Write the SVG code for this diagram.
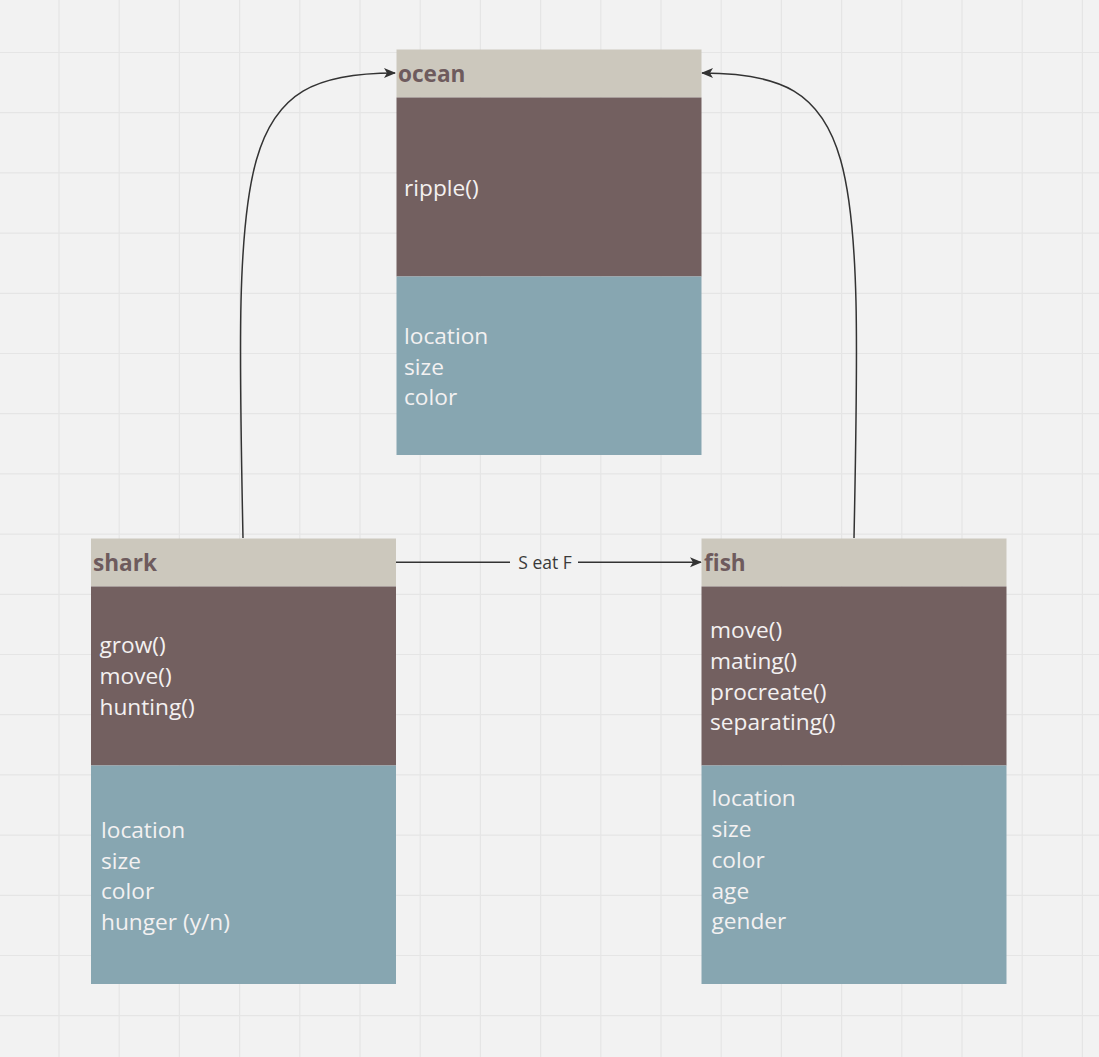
<svg xmlns="http://www.w3.org/2000/svg" width="1099" height="1057" viewBox="0 0 1099 1057">
<style>
.hdr{fill:#ccc8bd}
.mth{fill:#736060}
.att{fill:#87a6b1}
.title{font-family:"Open Sans","Noto Sans",sans-serif;font-weight:bold;font-size:22.6px;fill:#6e5b5d}
.item{font-family:"Open Sans","Noto Sans",sans-serif;font-size:22.7px;fill:#f3f1f1}
.lbl{font-family:"Open Sans","Noto Sans",sans-serif;font-size:17.5px;fill:#3a3a3a}
.conn{fill:none;stroke:#333333;stroke-width:1.5}
</style>
<defs>
<marker id="arr" viewBox="0 0 12 12" refX="11" refY="6" markerWidth="12" markerHeight="12" markerUnits="userSpaceOnUse" orient="auto">
<path d="M0,1 L12,6 L0,11 L3,6 Z" fill="#333333"/>
</marker>
</defs>
<rect width="1099" height="1057" fill="#f2f2f2"/>
<path id="grid" stroke="#e5e5e5" stroke-width="1.2" fill="none" d="M59,0V1057 M119.2,0V1057 M179.4,0V1057 M239.6,0V1057 M299.8,0V1057 M360,0V1057 M420.2,0V1057 M480.4,0V1057 M540.6,0V1057 M600.8,0V1057 M661,0V1057 M721.2,0V1057 M781.4,0V1057 M841.6,0V1057 M901.8,0V1057 M962,0V1057 M1022.2,0V1057 M1082.4,0V1057 M0,52.5H1099 M0,112.7H1099 M0,172.9H1099 M0,233.1H1099 M0,293.3H1099 M0,353.5H1099 M0,413.7H1099 M0,473.9H1099 M0,534.1H1099 M0,594.3H1099 M0,654.5H1099 M0,714.7H1099 M0,774.9H1099 M0,835.1H1099 M0,895.3H1099 M0,955.5H1099 M0,1015.7H1099"/>
<g id="connectors">
<path class="conn" d="M243,538 C235,150 236,73 395,73" marker-end="url(#arr)"/>
<path class="conn" d="M854,538 C862,150 861,73 702,73" marker-end="url(#arr)"/>
<path class="conn" d="M396,562.3 H510 M578,562.3 H701" marker-end="url(#arr)"/>
<text class="lbl" x="545" y="568.5" text-anchor="middle">S eat F</text>
</g>
<g id="ocean">
<rect class="hdr" x="396.5" y="49.5" width="305" height="48"/>
<rect class="mth" x="396.5" y="97.5" width="305" height="179"/>
<rect class="att" x="396.5" y="276.5" width="305" height="178.5"/>
<text class="title" x="398" y="82">ocean</text>
<text class="item" x="404" y="195.5">ripple()</text>
<text class="item" x="404" y="343.5">location</text>
<text class="item" x="404" y="374.5">size</text>
<text class="item" x="404" y="405.3">color</text>
</g>
<g id="shark">
<rect class="hdr" x="91" y="538.5" width="305" height="48"/>
<rect class="mth" x="91" y="586.5" width="305" height="179"/>
<rect class="att" x="91" y="765.5" width="305" height="218.5"/>
<text class="title" x="93" y="571">shark</text>
<text class="item" x="99.5" y="653">grow()</text>
<text class="item" x="99.5" y="683.8">move()</text>
<text class="item" x="99.5" y="714.6">hunting()</text>
<text class="item" x="101" y="837.8">location</text>
<text class="item" x="101" y="868.6">size</text>
<text class="item" x="101" y="899.4">color</text>
<text class="item" x="101" y="930.2">hunger (y/n)</text>
</g>
<g id="fish">
<rect class="hdr" x="701.5" y="538.5" width="305" height="48"/>
<rect class="mth" x="701.5" y="586.5" width="305" height="179"/>
<rect class="att" x="701.5" y="765.5" width="305" height="218.5"/>
<text class="title" x="704" y="571">fish</text>
<text class="item" x="710" y="638">move()</text>
<text class="item" x="710" y="668.8">mating()</text>
<text class="item" x="710" y="699.6">procreate()</text>
<text class="item" x="710" y="730.4">separating()</text>
<text class="item" x="711.5" y="806.2">location</text>
<text class="item" x="711.5" y="837">size</text>
<text class="item" x="711.5" y="867.8">color</text>
<text class="item" x="711.5" y="898.6">age</text>
<text class="item" x="711.5" y="929.4">gender</text>
</g>
</svg>
